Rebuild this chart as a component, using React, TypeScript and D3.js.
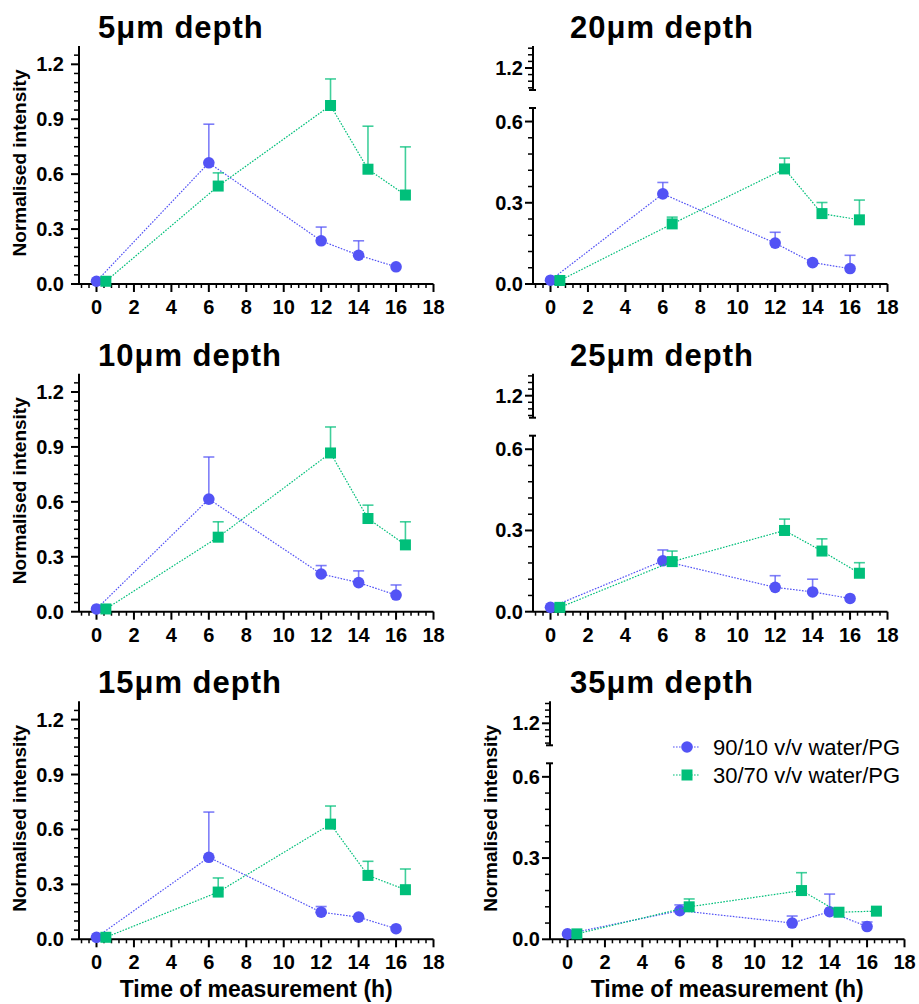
import React from 'react';
import * as d3 from 'd3';

// time points (h); the 30/70 series is offset by 0.5 h in the plot
const timesA = [0, 6, 12, 14, 16];
const timesB = [0.5, 6.5, 12.5, 14.5, 16.5];

const depths = ['5μm depth', '10μm depth', '15μm depth', '20μm depth', '25μm depth', '35μm depth'];

// 90/10 v/v water/PG : means and upper SD per depth
const meanA = [
  [0.015, 0.662, 0.236, 0.157, 0.094],
  [0.015, 0.615, 0.206, 0.159, 0.091],
  [0.011, 0.448, 0.148, 0.121, 0.058],
  [0.014, 0.333, 0.151, 0.079, 0.057],
  [0.016, 0.188, 0.090, 0.073, 0.049],
  [0.020, 0.106, 0.060, 0.102, 0.047],
];
const errA = [
  [0, 0.211, 0.075, 0.079, 0],
  [0, 0.230, 0.046, 0.064, 0.055],
  [0, 0.247, 0.031, 0, 0],
  [0, 0.042, 0.040, 0, 0.049],
  [0, 0.040, 0.043, 0.047, 0],
  [0, 0.021, 0.026, 0.065, 0.017],
];

// 30/70 v/v water/PG
const meanB = [
  [0.015, 0.535, 0.975, 0.627, 0.486],
  [0.015, 0.407, 0.867, 0.509, 0.365],
  [0.011, 0.258, 0.629, 0.349, 0.271],
  [0.013, 0.222, 0.425, 0.260, 0.237],
  [0.016, 0.185, 0.300, 0.224, 0.142],
  [0.020, 0.120, 0.180, 0.100, 0.104],
];
const errB = [
  [0, 0.072, 0.145, 0.235, 0.263],
  [0, 0.084, 0.142, 0.073, 0.126],
  [0, 0.077, 0.099, 0.077, 0.113],
  [0, 0.025, 0.040, 0.041, 0.073],
  [0, 0.039, 0.042, 0.045, 0.039],
  [0, 0.029, 0.066, 0, 0],
];

const seriesNames = ['90/10 v/v water/PG', '30/70 v/v water/PG'];
const colors = ['#5353f5', '#00bf7a'];
const xTicks = [0, 2, 4, 6, 8, 10, 12, 14, 16, 18];
const yTicksFull = [0, 0.3, 0.6, 0.9, 1.2];
const yTicksLow = [0, 0.3, 0.6];

const FONT = '"Liberation Sans", Arial, sans-serif';
const rowY0 = [284, 611.7, 939.3];
const plotH = 238;

const Series = ({ x, y, times, means, errs, color, square }) => {
  const line = d3.line().x((d, i) => x(times[i])).y((d) => y(d));
  return (
    <g>
      <path d={line(means)} fill="none" stroke={color} strokeWidth={1.2} strokeDasharray="1.6,1.4" />
      {means.map((m, i) => {
        const cx = x(times[i]);
        const cy = y(m);
        const top = y(m + errs[i]);
        return (
          <g key={i}>
            {errs[i] > 0 && (
              <g stroke={color} strokeOpacity={0.75} strokeWidth={1.6}>
                <line x1={cx} x2={cx} y1={cy} y2={top} />
                <line x1={cx - 5.5} x2={cx + 5.5} y1={top} y2={top} />
              </g>
            )}
            {square ? (
              <rect x={cx - 5.5} y={cy - 5.5} width={11} height={11} fill={color} />
            ) : (
              <circle cx={cx} cy={cy} r={5.8} fill={color} />
            )}
          </g>
        );
      })}
    </g>
  );
};

const Panel = ({ idx, col, row }) => {
  const y0 = rowY0[row];
  const broken = col === 1;
  const axisX = col === 0 ? 79 : row === 2 ? 550 : 533;
  const xStart = axisX + 17.5;
  const x = d3.scaleLinear().domain([0, 18]).range([xStart, xStart + 337]);
  const xEnd = x(18);
  const xMinor = d3.range(-0.8, 18.01, 0.4).filter((v) => Math.abs(v / 2 - Math.round(v / 2)) > 0.01);

  let yAxis;
  let y;
  if (!broken) {
    y = d3.scaleLinear().domain([0, 1.3]).range([y0, y0 - plotH]);
    const minor = d3.range(0.05, 1.3, 0.05).filter((v) => Math.abs(v / 0.3 - Math.round(v / 0.3)) > 0.01);
    yAxis = (
      <g>
        <line x1={axisX} x2={axisX} y1={y0} y2={y0 - plotH} stroke="#000" strokeWidth={2} />
        {minor.map((v, i) => (
          <line key={i} x1={axisX - 5} x2={axisX} y1={y(v)} y2={y(v)} stroke="#000" strokeWidth={1.5} />
        ))}
        {yTicksFull.map((v) => (
          <g key={v}>
            <line x1={axisX - 8} x2={axisX} y1={y(v)} y2={y(v)} stroke="#000" strokeWidth={2} />
            <text x={axisX - 15} y={y(v) + 7} textAnchor="end" fontSize={20} fontWeight="bold" fontFamily={FONT}>
              {d3.format('.1f')(v)}
            </text>
          </g>
        ))}
      </g>
    );
  } else {
    y = d3.scaleLinear().domain([0, 0.65]).range([y0, y0 - 176]);
    const yUp = d3.scaleLinear().domain([1.1, 1.3]).range([y0 - 194, y0 - 238]);
    const minorLow = d3.range(0.06, 0.6, 0.06).filter((v) => Math.abs(v / 0.3 - Math.round(v / 0.3)) > 0.01);
    const minorUp = [1.11, 1.14, 1.17, 1.23, 1.26, 1.29];
    yAxis = (
      <g>
        <line x1={axisX} x2={axisX} y1={y0} y2={y(0.65)} stroke="#000" strokeWidth={2} />
        <line x1={axisX - 4} x2={axisX + 3} y1={y(0.65)} y2={y(0.65)} stroke="#000" strokeWidth={2} />
        {minorLow.map((v, i) => (
          <line key={i} x1={axisX - 5} x2={axisX} y1={y(v)} y2={y(v)} stroke="#000" strokeWidth={1.5} />
        ))}
        {yTicksLow.map((v) => (
          <g key={v}>
            <line x1={axisX - 8} x2={axisX} y1={y(v)} y2={y(v)} stroke="#000" strokeWidth={2} />
            <text x={axisX - 10} y={y(v) + 7} textAnchor="end" fontSize={20} fontWeight="bold" fontFamily={FONT}>
              {d3.format('.1f')(v)}
            </text>
          </g>
        ))}
        <line x1={axisX} x2={axisX} y1={yUp(1.1)} y2={yUp(1.3)} stroke="#000" strokeWidth={2} />
        <line x1={axisX - 4} x2={axisX + 3} y1={yUp(1.1)} y2={yUp(1.1)} stroke="#000" strokeWidth={2} />
        {minorUp.map((v, i) => (
          <line key={i} x1={axisX - 5} x2={axisX} y1={yUp(v)} y2={yUp(v)} stroke="#000" strokeWidth={1.5} />
        ))}
        <line x1={axisX - 8} x2={axisX} y1={yUp(1.2)} y2={yUp(1.2)} stroke="#000" strokeWidth={2} />
        <text x={axisX - 10} y={yUp(1.2) + 7} textAnchor="end" fontSize={20} fontWeight="bold" fontFamily={FONT}>
          1.2
        </text>
      </g>
    );
  }

  const showYLabel = col === 0 || row === 2;
  const showXLabel = row === 2;

  return (
    <g>
      <text x={col === 0 ? 98 : 570} y={y0 - 246} fontSize={31} fontWeight="bold" fontFamily={FONT} letterSpacing={1}>
        {depths[idx]}
      </text>
      {yAxis}
      <line x1={axisX} x2={xEnd} y1={y0} y2={y0} stroke="#000" strokeWidth={2} />
      {xMinor.map((v, i) => (
        <line key={i} x1={x(v)} x2={x(v)} y1={y0} y2={y0 + 4} stroke="#000" strokeWidth={1.5} />
      ))}
      {xTicks.map((v) => (
        <g key={v}>
          <line x1={x(v)} x2={x(v)} y1={y0} y2={y0 + 8} stroke="#000" strokeWidth={2} />
          <text x={x(v)} y={y0 + 30} textAnchor="middle" fontSize={20} fontWeight="bold" fontFamily={FONT}>
            {v}
          </text>
        </g>
      ))}
      {showYLabel && (
        <text
          transform={`translate(${axisX - 53},${y0 - 121}) rotate(-90)`}
          textAnchor="middle"
          fontSize={19}
          fontWeight="bold"
          fontFamily={FONT}
        >
          Normalised intensity
        </text>
      )}
      {showXLabel && (
        <text x={(axisX + xEnd) / 2} y={997} textAnchor="middle" fontSize={23} fontWeight="bold" fontFamily={FONT}>
          Time of measurement (h)
        </text>
      )}
      <Series x={x} y={y} times={timesA} means={meanA[idx]} errs={errA[idx]} color={colors[0]} square={false} />
      <Series x={x} y={y} times={timesB} means={meanB[idx]} errs={errB[idx]} color={colors[1]} square={true} />
    </g>
  );
};

const Legend = () => (
  <g fontFamily={FONT}>
    {seriesNames.map((name, i) => {
      const ly = 747 + i * 28;
      return (
        <g key={name}>
          <line x1={673} x2={700} y1={ly} y2={ly} stroke={colors[i]} strokeWidth={1.2} strokeDasharray="1.6,1.4" />
          {i === 0 ? (
            <circle cx={687} cy={ly} r={5.8} fill={colors[i]} />
          ) : (
            <rect x={681.5} y={ly - 5.5} width={11} height={11} fill={colors[i]} />
          )}
          <text x={713} y={ly + 8} fontSize={22}>
            {name}
          </text>
        </g>
      );
    })}
  </g>
);

export default function App() {
  const panels = [
    { idx: 0, col: 0, row: 0 },
    { idx: 1, col: 0, row: 1 },
    { idx: 2, col: 0, row: 2 },
    { idx: 3, col: 1, row: 0 },
    { idx: 4, col: 1, row: 1 },
    { idx: 5, col: 1, row: 2 },
  ];
  return (
    <svg width={919} height={1004} style={{ position: 'absolute', left: 0, top: 0, background: '#fff' }}>
      <rect width={919} height={1004} fill="#fff" />
      {panels.map((p) => (
        <Panel key={p.idx} {...p} />
      ))}
      <Legend />
    </svg>
  );
}
